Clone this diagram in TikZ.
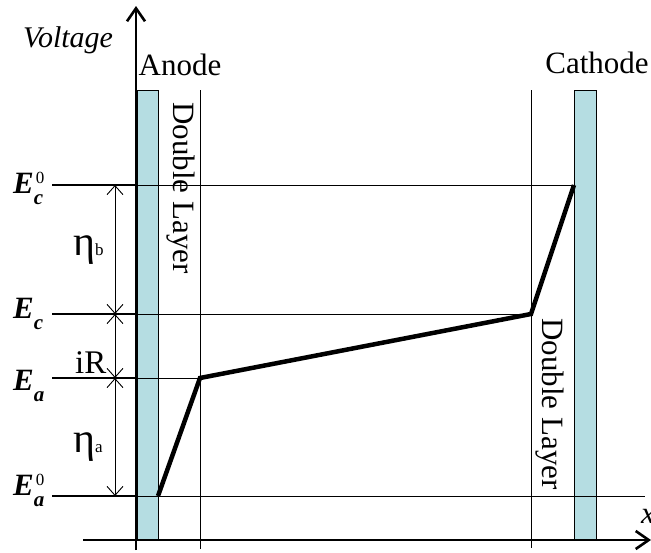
\documentclass[tikz,border=0pt]{standalone}
\usepackage{fontspec}
\setmainfont{Liberation Serif}
\usetikzlibrary{arrows.meta}
\definecolor{elbar}{HTML}{B5DDE2}
\newcommand{\lev}[2]{\textbf{\textit{E}}\rlap{\hspace{2pt}\raisebox{10pt}{\fontsize{17}{18}\selectfont #2}}\raisebox{-11pt}{\fontsize{21}{22}\selectfont\bfseries\itshape #1}}
\newcommand{\ovp}[1]{{\fontsize{42}{44}\selectfont η}{\fontsize{17}{18}\selectfont #1}}

\begin{document}
\begin{tikzpicture}[x=1pt, y=-1pt, font=\fontsize{31}{36}\selectfont,
  thinline/.style={line width=0.8pt},
  axis/.style={line width=2.6pt, -{Straight Barb[length=13pt,width=18pt]}},
  dim/.style={line width=0.9pt, {Straight Barb[length=9pt,width=16pt]}-{Straight Barb[length=9pt,width=16pt]}}]
 \useasboundingbox (0,0) rectangle (651,552);
 % electrodes and double layer limits
 \foreach \xa/\xb in {137/158, 574/596}
  \filldraw[fill=elbar, thinline] (\xa,90) rectangle (\xb,539);
 \draw[thinline] (200,90) -- (200,549) (531,90) -- (531,548);
 % voltage levels
 \foreach \y/\xe in {185/574, 314/531, 378/200, 496/645} {
  \draw[thinline] (136,\y) -- (\xe,\y);
  \draw[line width=2.6pt] (52,\y) -- (136,\y);
 }
 % axes
 \draw[axis] (136,550) -- (136,6);
 \draw[axis] (83,540) -- (651,540);
 % potential profile
 \draw[line width=4.5pt] (158,496) -- (200,378) -- (531,314) -- (574,185);
 % overpotentials
 \foreach \ya/\yb in {185/314, 314/378, 378/496}
  \draw[dim] (115,\ya) -- (115,\yb);
 \node[anchor=base, font=\fontsize{30}{36}\selectfont\itshape] (volt) at (68,47) {Voltage};
 \node[anchor=base west, inner sep=0pt] (x) at (641,523) {\textit{x}};
 \node[anchor=base, inner sep=0pt] (anode) at (180,75) {Anode};
 \node[anchor=base, inner sep=0pt] (cathode) at (597,73) {Cathode};
 \node[rotate=-90, inner sep=0pt] (dla) at (181,188) {Double Layer};
 \node[rotate=-90, inner sep=0pt] (dlc) at (550,404) {Double Layer};
 \node[anchor=base west, inner sep=0pt] (etab) at (73,255) {\ovp{b}};
 \node[anchor=base west, inner sep=0pt, font=\fontsize{33}{36}\selectfont] (ir) at (75,373) {iR};
 \node[anchor=base west, inner sep=0pt] (etaa) at (73,452) {\ovp{a}};
 \node[anchor=base west, inner sep=0pt] (ec0) at (13,193) {\lev{c}{0}};
 \node[anchor=base west, inner sep=0pt] (ec) at (13,318) {\lev{c}{}};
 \node[anchor=base west, inner sep=0pt] (ea) at (13,390) {\lev{a}{}};
 \node[anchor=base west, inner sep=0pt] (ea0) at (13,495) {\lev{a}{0}};
\end{tikzpicture}
\end{document}
